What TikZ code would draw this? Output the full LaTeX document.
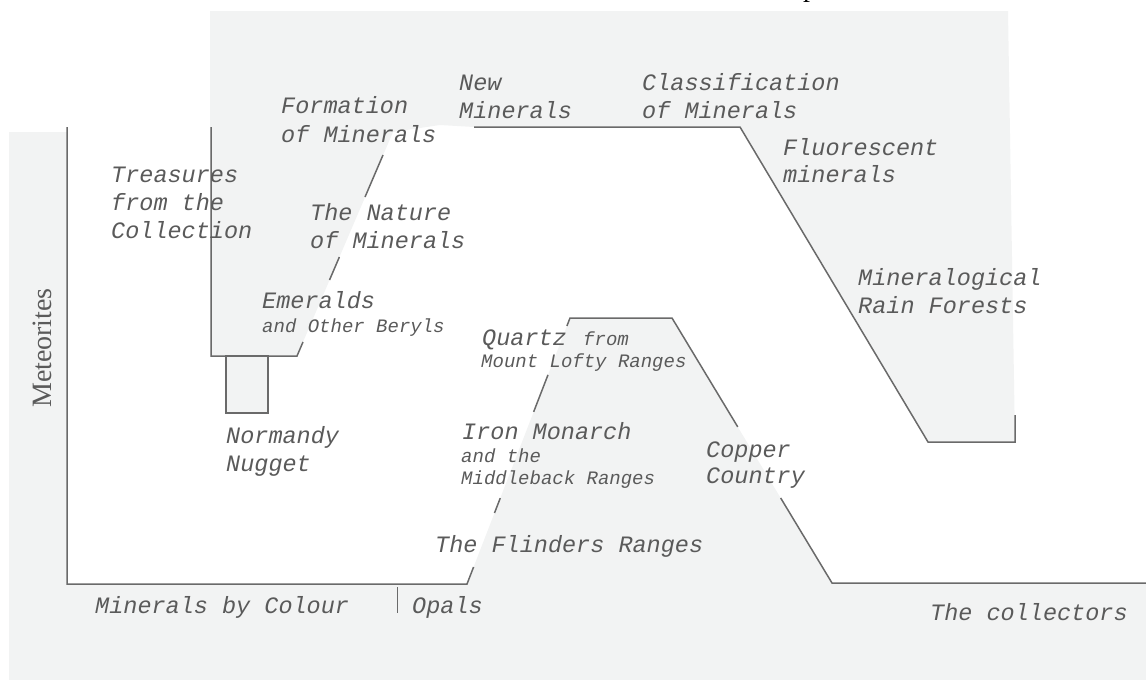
\documentclass[tikz,border=0pt]{standalone}
\usepackage{fontspec}
\newfontfamily\monofam{Liberation Mono}
\newfontfamily\seriffam{Liberation Serif}
\usetikzlibrary{calc}
\definecolor{bgfill}{HTML}{F2F3F3}
\definecolor{wallc}{HTML}{6A6A6A}
\definecolor{txtc}{HTML}{5A5A5A}
\tikzset{
  wall/.style={draw=wallc, line width=1.5pt},
  big/.style={anchor=base west, inner sep=0pt, text=txtc, font=\monofam\itshape\fontsize{23.5}{28}\selectfont},
  small/.style={anchor=base west, inner sep=0pt, text=txtc, font=\monofam\itshape\fontsize{19}{22}\selectfont},
}
\begin{document}
\begin{tikzpicture}[x=1pt,y=-1pt]
\useasboundingbox (0,0) rectangle (1146,680);
% grey regions
\fill[bgfill] (210,11) -- (1008,11) -- (1015,442) -- (928,442) -- (740,127) -- (474,127) -- (440,125) -- (393,132) -- (297,356) -- (210,356) -- cycle;
\fill[bgfill] (9,132) -- (67,132) -- (67,584) -- (467,584) -- (570,318) -- (672,318) -- (832,583) -- (1146,583) -- (1146,680) -- (9,680) -- cycle;
% coordinates
\coordinate (hl0) at (467,584);
\coordinate (hl1) at (570,318);
\coordinate (hr0) at (672,318);
\coordinate (hr1) at (832,583);
\coordinate (ul0) at (297,356);
\coordinate (ul1) at (383,155);
% walls
\draw[wall] (67,127) -- (67,584) -- (hl0) -- ($(hl0)!0.064!(hl1)$);
\draw[wall] ($(hl0)!0.267!(hl1)$) -- ($(hl0)!0.323!(hl1)$);
\draw[wall] ($(hl0)!0.647!(hl1)$) -- ($(hl0)!0.786!(hl1)$);
\draw[wall] ($(hl0)!0.97!(hl1)$) -- (hl1) -- (hr0) -- ($(hr0)!0.411!(hr1)$);
\draw[wall] ($(hr0)!0.679!(hr1)$) -- (hr1) -- (1146,583);
\draw[wall] (211,127) -- (211,356) -- (ul0) -- ($(ul0)!0.07!(ul1)$);
\draw[wall] ($(ul0)!0.378!(ul1)$) -- ($(ul0)!0.4925!(ul1)$);
\draw[wall] ($(ul0)!0.791!(ul1)$) -- (ul1);
\draw[wall] (474,127) -- (740,127) -- (928,442) -- (1015,442) -- (1015,415);
\draw[wall, fill=bgfill] (226,356) rectangle (268,413);
\draw[draw=wallc, line width=0.8pt] (397,587) -- (397,613);
% labels
\node[big] (form1) at (281,113) {Formation};
\node[big] (form2) at (281,142) {of Minerals};
\node[big] (new1) at (459,90) {New};
\node[big] (new2) at (459,118) {Minerals};
\node[big] (class1) at (642,90) {Classification};
\node[big] (class2) at (642,118) {of Minerals};
\node[big] (treas1) at (111,182) {Treasures};
\node[big] (treas2) at (111,210) {from the};
\node[big] (treas3) at (111,238) {Collection};
\node[big] (nat1) at (310,220) {The Nature};
\node[big] (nat2) at (310,248) {of Minerals};
\node[big] (fluo1) at (783,155) {Fluorescent};
\node[big] (fluo2) at (783,182) {minerals};
\node[big] (emer1) at (262,308) {Emeralds};
\node[small] (emer2) at (262,332) {and Other Beryls};
\node[big] (rain1) at (858,285) {Mineralogical};
\node[big] (rain2) at (858,313) {Rain Forests};
\node[big] (quartz) at (482,345) {Quartz};
\node[small] (from) at (583,345) {from};
\node[small] (mount) at (481,367) {Mount Lofty Ranges};
\node[big] (iron1) at (462,439) {Iron Monarch};
\node[small] (iron2) at (461,462) {and the};
\node[small] (iron3) at (461,484) {Middleback Ranges};
\node[big] (norm1) at (226,443) {Normandy};
\node[big] (norm2) at (226,471) {Nugget};
\node[big] (copper1) at (706,457) {Copper};
\node[big] (copper2) at (706,483) {Country};
\node[big] (flind) at (435,552) {The Flinders Ranges};
\node[big] (mbc) at (95,613) {Minerals by Colour};
\node[big] (opals) at (412,613) {Opals};
\node[big] (coll) at (930,620) {The collectors};
\node[rotate=90, inner sep=0pt, text=txtc, font=\seriffam\fontsize{28}{30}\selectfont] (met) at (42,348) {Meteorites};
\node[anchor=base, inner sep=0pt, font=\seriffam\fontsize{28}{30}\selectfont] (ptop) at (810,-3) {p};
\end{tikzpicture}
\end{document}
